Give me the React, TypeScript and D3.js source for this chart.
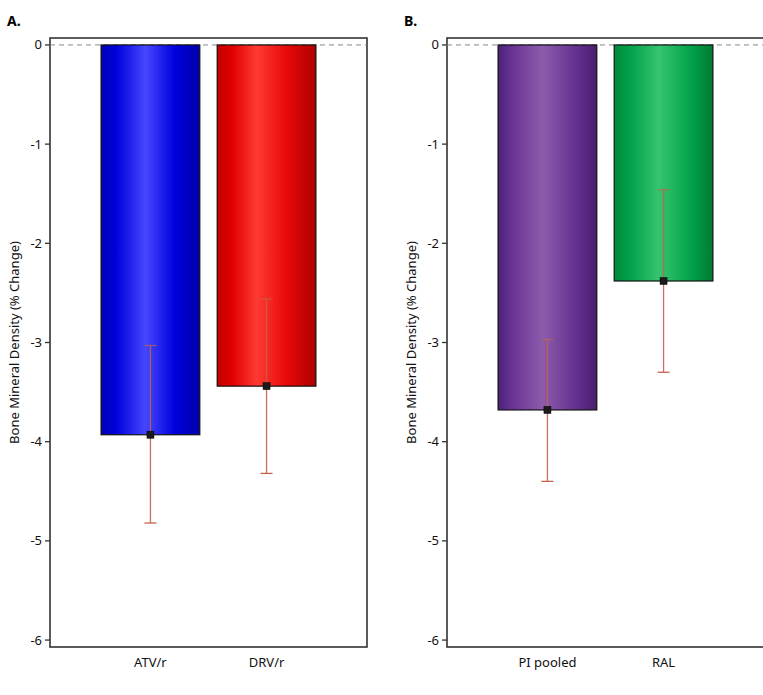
import React from "react";
import * as d3 from "d3";

const catsA = ["ATV/r", "DRV/r"];
const meansA = [-3.93, -3.44];
const lowA = [-4.82, -4.32];
const highA = [-3.03, -2.56];

const catsB = ["PI pooled", "RAL"];
const meansB = [-3.68, -2.38];
const lowB = [-4.40, -3.30];
const highB = [-2.97, -1.46];

const yTicks = [0, -1, -2, -3, -4, -5, -6];
const yLabel = "Bone Mineral Density (% Change)";

type Stop = [number, string];
const gradBlue: Stop[] = [[0, "#0000b4"], [0.15, "#0000dc"], [0.45, "#4646ff"], [0.75, "#0000dc"], [1, "#0000aa"]];
const gradRed: Stop[] = [[0, "#c40000"], [0.15, "#e00000"], [0.4, "#ff3a32"], [0.7, "#e80a0a"], [1, "#ac0000"]];
const gradPurple: Stop[] = [[0, "#4c2278"], [0.15, "#6a3494"], [0.45, "#8c5cac"], [0.8, "#62308e"], [1, "#4a1e6e"]];
const gradGreen: Stop[] = [[0, "#008a3c"], [0.15, "#00a04a"], [0.45, "#36c470"], [0.8, "#00a048"], [1, "#007a34"]];

const FONT = "'Noto Sans', 'Open Sans', sans-serif";

function Panel(props: {
  id: string;
  label: string;
  left: number;
  cats: string[];
  means: number[];
  lows: number[];
  highs: number[];
  grads: Stop[][];
}) {
  const { id, label, left, cats, means, lows, highs, grads } = props;
  const width = 317;
  const top = 38;
  const bottom = 647;
  const y = d3.scaleLinear().domain([0.07, -6.07]).range([top, bottom]);
  const x = d3
    .scaleBand<string>()
    .domain(cats)
    .range([left, left + width])
    .paddingInner(0.15)
    .paddingOuter(0.44);
  const errColor = "#c4624c";
  return (
    <g>
      <defs>
        {grads.map((g, i) => (
          <linearGradient key={i} id={`${id}-g${i}`} x1="0" x2="1" y1="0" y2="0">
            {g.map(([o, c], j) => (
              <stop key={j} offset={o} stopColor={c} />
            ))}
          </linearGradient>
        ))}
      </defs>
      <text x={left - 43} y={26} fontFamily={FONT} fontWeight="bold" fontSize={14}>
        {label}
      </text>
      <rect x={left} y={top} width={width} height={bottom - top} fill="#fff" stroke="#333" strokeWidth={1.6} />
      <line x1={left} x2={left + width} y1={y(0)} y2={y(0)} stroke="#888" strokeDasharray="5,4" strokeWidth={1} />
      {yTicks.map((t) => (
        <g key={t}>
          <line x1={left - 5} x2={left} y1={y(t)} y2={y(t)} stroke="#333" strokeWidth={1.3} />
          <text x={left - 8} y={y(t)} dy="0.35em" textAnchor="end" fontFamily={FONT} fontSize={13} fill="#111">
            {t === 0 ? "0" : `-${Math.abs(t)}`}
          </text>
        </g>
      ))}
      <text
        transform={`translate(${left - 31},${(top + bottom) / 2}) rotate(-90)`}
        textAnchor="middle"
        fontFamily={FONT}
        fontSize={13}
        fill="#111"
      >
        {yLabel}
      </text>
      {cats.map((c, i) => {
        const bx = x(c)!;
        const bw = x.bandwidth();
        const cx = bx + bw / 2;
        return (
          <g key={c}>
            <rect
              x={bx}
              y={y(0)}
              width={bw}
              height={y(means[i]) - y(0)}
              fill={`url(#${id}-g${i})`}
              stroke="#111"
              strokeWidth={1.2}
            />
            <line x1={cx} x2={cx} y1={y(highs[i])} y2={y(lows[i])} stroke={errColor} strokeWidth={1.3} opacity={0.9} />
            <line x1={cx - 6} x2={cx + 6} y1={y(highs[i])} y2={y(highs[i])} stroke={errColor} strokeWidth={1.3} opacity={0.7} />
            <line x1={cx - 6} x2={cx + 6} y1={y(lows[i])} y2={y(lows[i])} stroke={errColor} strokeWidth={1.3} />
            <rect x={cx - 3.5} y={y(means[i]) - 3.5} width={7} height={7} fill="#1a1a1a" stroke="#000" strokeWidth={0.5} />
            <text x={cx} y={667} textAnchor="middle" fontFamily={FONT} fontSize={13} fill="#111">
              {c}
            </text>
          </g>
        );
      })}
    </g>
  );
}

export default function App() {
  return (
    <svg
      width={763}
      height={695}
      style={{ position: "absolute", left: 0, top: 0, background: "#fff" }}
    >
      <rect width={763} height={695} fill="#fff" />
      <Panel
        id="pa"
        label="A."
        left={50}
        cats={catsA}
        means={meansA}
        lows={lowA}
        highs={highA}
        grads={[gradBlue, gradRed]}
      />
      <Panel
        id="pb"
        label="B."
        left={447}
        cats={catsB}
        means={meansB}
        lows={lowB}
        highs={highB}
        grads={[gradPurple, gradGreen]}
      />
    </svg>
  );
}
